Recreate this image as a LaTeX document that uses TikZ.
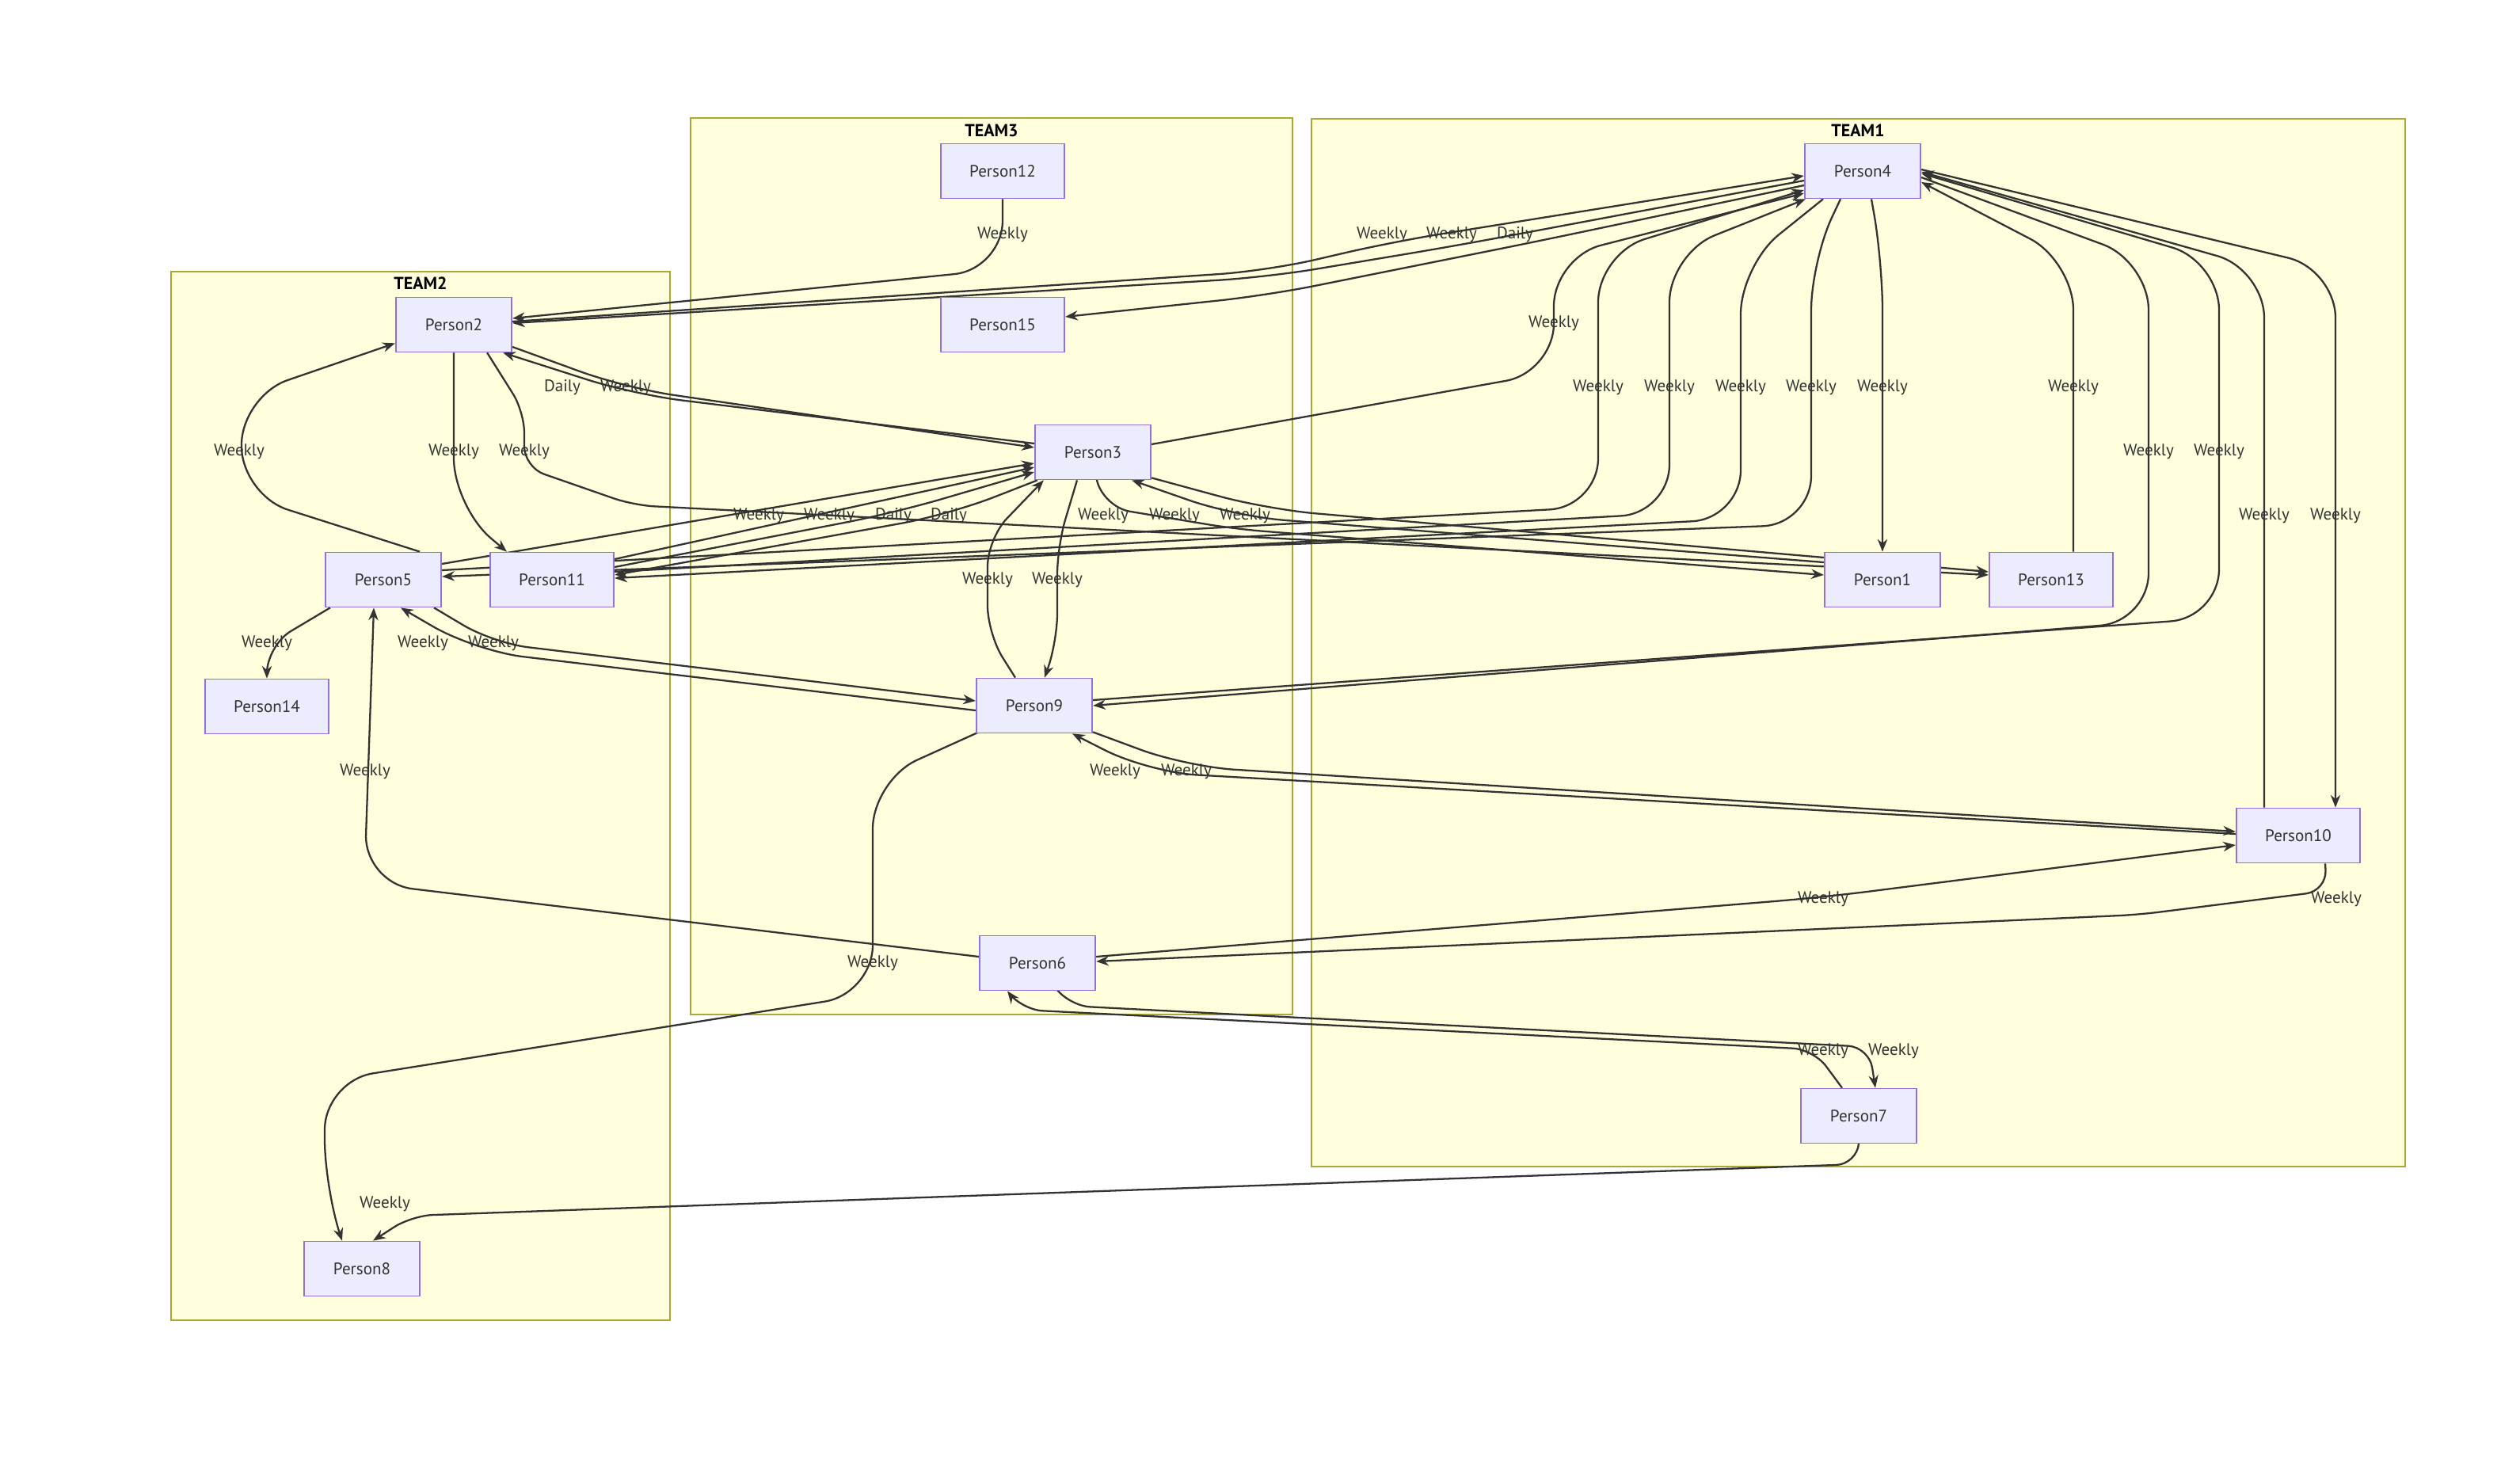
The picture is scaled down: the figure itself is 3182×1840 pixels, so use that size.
\documentclass[tikz,border=0pt]{standalone}
\usepackage{fontspec}
\setmainfont{PT Sans}
\usetikzlibrary{arrows.meta,calc}
\definecolor{ink}{HTML}{333333}
\definecolor{personfill}{HTML}{ECECFF}
\definecolor{personline}{HTML}{9370DB}
\definecolor{teamfill}{HTML}{FFFFDE}
\definecolor{teamline}{HTML}{AAAA33}
\pgfdeclarelayer{back}
\pgfdeclarelayer{wires}
\pgfsetlayers{back,wires,main}
\tikzset {
  >={Stealth[length=9pt,width=7pt]},
  every node/.style={font=\fontsize{12}{14}\selectfont, text=ink},
}

\begin{document}
\begin{tikzpicture}[x=0.02cm, y=-0.02cm,
    person/.style={draw=personline, fill=personfill, line width=1pt,
      minimum width=2.93cm, minimum height=1.38cm, inner sep=0pt},
    wide/.style={person, minimum width=3.13cm},
    team/.style={draw=teamline, fill=teamfill, line width=0.8pt},
    teamname/.style={text=black, font=\fontsize{12.5}{14}\selectfont\bfseries},
    link/.style={draw=ink, line width=1.3pt, ->, rounded corners=35pt},
    freq/.style={inner sep=1pt}]
  \useasboundingbox (0,0) rectangle (3182,1840);

  \begin{pgfonlayer}{back}
    \draw[team] (216,343) rectangle (846,1667);
    \draw[team] (872,149) rectangle (1632,1281);
    \draw[team] (1656,150) rectangle (3037,1473);
  \end{pgfonlayer}
  \node[teamname] (team2) at (531,358) {TEAM2};
  \node[teamname] (team3) at (1252,165) {TEAM3};
  \node[teamname] (team1) at (2346,165) {TEAM1};

  \node[person] (p4) at (2352,216) {Person4};
  \node[wide] (p12) at (1266,216) {Person12};
  \node[person] (p2) at (573,410) {Person2};
  \node[wide] (p15) at (1266,410) {Person15};
  \node[person] (p3) at (1380,571) {Person3};
  \node[person] (p5) at (484,732) {Person5};
  \node[wide] (p11) at (697,732) {Person11};
  \node[person] (p1) at (2377,732) {Person1};
  \node[wide] (p13) at (2590,732) {Person13};
  \node[person] (p9) at (1306,891) {Person9};
  \node[wide] (p14) at (337,892) {Person14};
  \node[wide] (p10) at (2902,1055) {Person10};
  \node[person] (p6) at (1310,1216) {Person6};
  \node[person] (p7) at (2347,1409) {Person7};
  \node[person] (p8) at (457,1602) {Person8};

  \node[freq] (l1) at (1266,296) {Weekly};
  \node[freq] (l2) at (1745,296) {Weekly};
  \node[freq] (l3) at (1833,296) {Weekly};
  \node[freq] (l4) at (1913,296) {Daily};
  \node[freq] (l5) at (1962,408) {Weekly};
  \node[freq] (l6) at (710,489) {Daily};
  \node[freq] (l7) at (790,489) {Weekly};
  \node[freq] (l8) at (2018,489) {Weekly};
  \node[freq] (l9) at (2108,489) {Weekly};
  \node[freq] (l10) at (2198,489) {Weekly};
  \node[freq] (l11) at (2287,489) {Weekly};
  \node[freq] (l12) at (2377,489) {Weekly};
  \node[freq] (l13) at (2618,489) {Weekly};
  \node[freq] (l14) at (302,570) {Weekly};
  \node[freq] (l15) at (573,570) {Weekly};
  \node[freq] (l16) at (662,570) {Weekly};
  \node[freq] (l17) at (2713,570) {Weekly};
  \node[freq] (l18) at (2802,570) {Weekly};
  \node[freq] (l19) at (958,651) {Weekly};
  \node[freq] (l20) at (1047,651) {Weekly};
  \node[freq] (l21) at (1128,651) {Daily};
  \node[freq] (l22) at (1198,651) {Daily};
  \node[freq] (l23) at (1393,651) {Weekly};
  \node[freq] (l24) at (1483,651) {Weekly};
  \node[freq] (l25) at (1572,651) {Weekly};
  \node[freq] (l26) at (2949,651) {Weekly};
  \node[freq] (l27) at (2859,651) {Weekly};
  \node[freq] (l28) at (1247,732) {Weekly};
  \node[freq] (l29) at (1335,732) {Weekly};
  \node[freq] (l30) at (337,812) {Weekly};
  \node[freq] (l31) at (623,812) {Weekly};
  \node[freq] (l32) at (534,812) {Weekly};
  \node[freq] (l33) at (461,974) {Weekly};
  \node[freq] (l34) at (1498,974) {Weekly};
  \node[freq] (l35) at (1408,974) {Weekly};
  \node[freq] (l36) at (2302,1135) {Weekly};
  \node[freq] (l37) at (2950,1135) {Weekly};
  \node[freq] (l38) at (1102,1216) {Weekly};
  \node[freq] (l39) at (2302,1327) {Weekly};
  \node[freq] (l40) at (2391,1327) {Weekly};
  \node[freq] (l41) at (486,1520) {Weekly};

  \begin{pgfonlayer}{wires}
    \draw[link] (p12.south) -- (1266,340) -- ($(p2.east)+(0,-8)$);
    \draw[link] ($(p2.east)+(0,-4)$) -- (1600,342) -- (1760,305) -- ($(p4.west)+(0,6)$);
    \draw[link] ($(p4.west)+(0,12)$) -- (1840,310) -- (1600,350) -- ($(p2.east)+(0,-2)$);
    \draw[link] ($(p4.west)+(0,18)$) -- (1940,305) -- (1600,373) -- ($(p15.east)+(0,-10)$);
    \draw[link] ($(p3.east)+(0,-10)$) -- (1962,470) -- (1962,325) -- ($(p4.west)+(0,28)$);
    \draw[link] ($(p3.west)+(0,-11)$) -- (800,498) -- ($(p2.south east)+(-12,0)$);
    \draw[link] ($(p2.east)+(0,28)$) -- (790,490) -- ($(p3.west)+(0,-6)$);
    \draw[link] ($(p5.east)+(0,-12)$) -- (2018,640) -- (2018,320) -- ($(p4.west)+(0,24)$);
    \draw[link] ($(p11.east)+(0,-10)$) -- (2108,648) -- (2108,320) -- ($(p4.south west)+(2,0)$);
    \draw[link] ($(p4.south)+(-50,0)$) -- (2198,335) -- (2198,655) -- ($(p11.east)+(0,-2)$);
    \draw[link] ($(p4.south)+(-28,0)$) -- (2287,330) -- (2287,662) -- ($(p5.east)+(0,-4)$);
    \draw[link] ($(p4.south)+(11,0)$) -- (2377,330) -- (p1.north);
    \draw[link] ($(p13.north)+(28,0)$) -- (2618,330) -- ($(p4.east)+(0,14)$);
    \draw[link] ($(p5.north east)+(-28,0)$) -- (305,625) -- (305,500) -- ($(p2.south west)+(0,-12)$);
    \draw[link] (p2.south) -- (573,640) -- ($(p11.north)+(-57,0)$);
    \draw[link, rounded corners=15pt] ($(p2.south east)+(-32,0)$) -- (662,520) -- (662,590) -- (800,638) -- ($(p13.west)+(0,-6)$);
    \draw[link] ($(p4.east)+(0,8)$) -- (2713,330) -- (2713,785) -- (p9.east);
    \draw[link] ($(p9.east)+(0,-7)$) -- (2802,780) -- (2802,330) -- ($(p4.east)+(0,3)$);
    \draw[link] ($(p5.east)+(0,-20)$) -- ($(p3.west)+(0,14)$);
    \draw[link] ($(p11.east)+(0,-26)$) -- ($(p3.west)+(0,19)$);
    \draw[link] ($(p11.east)+(0,-16)$) -- (1128,648) -- ($(p3.west)+(0,25)$);
    \draw[link] ($(p3.south west)+(4,0)$) -- (1198,650) -- ($(p11.east)+(0,-6)$);
    \draw[link, rounded corners=20pt] ($(p3.south)+(5,0)$) -- (1392,640) -- (1560,668) -- ($(p1.west)+(0,-6)$);
    \draw[link] ($(p1.west)+(0,-22)$) -- (1560,652) -- ($(p3.south east)+(-25,0)$);
    \draw[link] ($(p3.south east)+(0,-3)$) -- (1600,643) -- ($(p13.west)+(0,-10)$);
    \draw[link] ($(p4.east)+(0,-2)$) -- (2949,340) -- ($(p10.north)+(47,0)$);
    \draw[link] ($(p10.north)+(-43,0)$) -- (2859,340) -- ($(p4.east)+(0,1)$);
    \draw[link, rounded corners=20pt] ($(p9.north)+(-24,0)$) -- (1247,800) -- (1247,680) -- ($(p3.south west)+(12,0)$);
    \draw[link, rounded corners=20pt] ($(p3.south)+(-20,0)$) -- (1335,690) -- (1335,810) -- ($(p9.north)+(13,0)$);
    \draw[link, rounded corners=20pt] ($(p5.south west)+(7,0)$) -- (337,815) -- (p14.north);
    \draw[link, rounded corners=25pt] ($(p5.south)+(64,0)$) -- (623,812) -- ($(p9.west)+(0,-6)$);
    \draw[link] ($(p9.west)+(0,6)$) -- (600,822) -- ($(p5.south)+(22,0)$);
    \draw[link] ($(p6.west)+(0,-8)$) -- (460,1115) -- ($(p5.south)+(-12,0)$);
    \draw[link] ($(p9.south east)+(0,-2)$) -- (1498,968) -- ($(p10.west)+(0,-5)$);
    \draw[link] ($(p10.west)+(0,-2)$) -- (1450,975) -- ($(p9.south)+(48,0)$);
    \draw[link] ($(p6.east)+(0,-8)$) -- (2302,1133) -- ($(p10.west)+(0,12)$);
    \draw[link, rounded corners=15pt] ($(p10.south)+(34,0)$) -- (2938,1125) -- (2700,1155) -- ($(p6.east)+(0,-2)$);
    \draw[link] ($(p9.south west)+(4,-2)$) -- (1102,985) -- (1102,1255) -- (410,1365) -- (410,1500) -- ($(p8.north)+(-25,0)$);
    \draw[link, rounded corners=15pt] ($(p7.north)+(-21,0)$) -- (2290,1325) -- (1290,1275) -- ($(p6.south)+(-38,0)$);
    \draw[link, rounded corners=15pt] ($(p6.south)+(26,0)$) -- (1350,1270) -- (2360,1322) -- ($(p7.north)+(21,0)$);
    \draw[link, rounded corners=15pt] (p7.south) -- (2345,1470) -- (520,1535) -- ($(p8.north)+(14,0)$);
  \end{pgfonlayer}
\end{tikzpicture}
\end{document}
